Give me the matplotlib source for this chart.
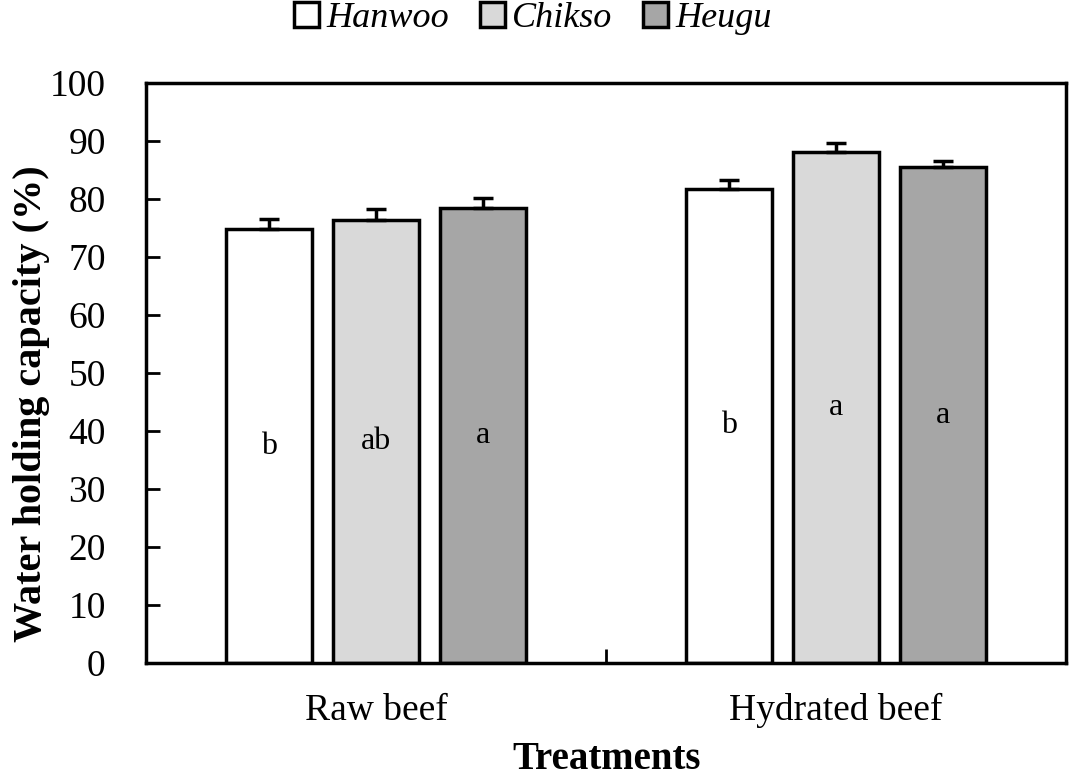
import numpy as np
import matplotlib.pyplot as plt
from matplotlib.patches import Patch

plt.rcParams['font.family'] = ['Liberation Serif', 'DejaVu Serif']

treatments = ['Raw beef', 'Hydrated beef']
breeds = ['Hanwoo', 'Chikso', 'Heugu']
means = {
    'Hanwoo': [74.8, 81.8],
    'Chikso': [76.3, 88.1],
    'Heugu': [78.5, 85.5],
}
errors = {
    'Hanwoo': [1.8, 1.4],
    'Chikso': [1.9, 1.6],
    'Heugu': [1.7, 1.1],
}
letters = {
    'Hanwoo': ['b', 'b'],
    'Chikso': ['ab', 'a'],
    'Heugu': ['a', 'a'],
}
colors = {'Hanwoo': '#ffffff', 'Chikso': '#d9d9d9', 'Heugu': '#a6a6a6'}

fig = plt.figure(figsize=(10.7, 7.77), dpi=100)
ax = fig.add_axes([0.1364, 0.1467, 0.8599, 0.7465])

x = np.arange(len(treatments)) + 0.5
width = 0.187
step = 0.232

for i, b in enumerate(breeds):
    xs = x + (i - 1) * step
    ax.bar(xs, means[b], width, color=colors[b], edgecolor='black', linewidth=2.5, zorder=2)
    ax.errorbar(xs, means[b], yerr=[np.zeros(2), errors[b]], fmt='none',
                ecolor='black', elinewidth=2.5, capsize=7, capthick=2.5, zorder=3)
    for xi, m, lab in zip(xs, means[b], letters[b]):
        ax.text(xi, m / 2, lab, ha='center', va='center', fontsize=23)

ax.set_xlim(0, 2)
ax.set_ylim(0, 100)
ax.set_yticks(np.arange(0, 101, 10))
ax.set_xticks([1])
ax.set_xticklabels([''])
ax.tick_params(axis='y', direction='in', length=10, width=2, labelsize=27, pad=29)
ax.tick_params(axis='x', direction='in', length=10, width=2)
for xi, t in zip(x, treatments):
    ax.text(xi, -5.2, t, ha='center', va='top', fontsize=27)
for s in ax.spines.values():
    s.set_linewidth(2.5)

fig.text(0.029, 0.48, 'Water holding capacity (%)', ha='center', va='center',
         rotation=90, fontsize=29, fontweight='bold')
fig.text(0.567, 0.022, 'Treatments', ha='center', va='center', fontsize=28, fontweight='bold')

handles = [Patch(facecolor=colors[b], edgecolor='black', linewidth=2.5) for b in breeds]
fig.legend(handles, breeds, loc='center', bbox_to_anchor=(0.498, 0.976), ncol=3, frameon=False,
           prop={'style': 'italic', 'size': 26}, handlelength=0.7, handleheight=0.7,
           handletextpad=0.2, columnspacing=0.85)

fig.savefig('out.png', dpi=100)
